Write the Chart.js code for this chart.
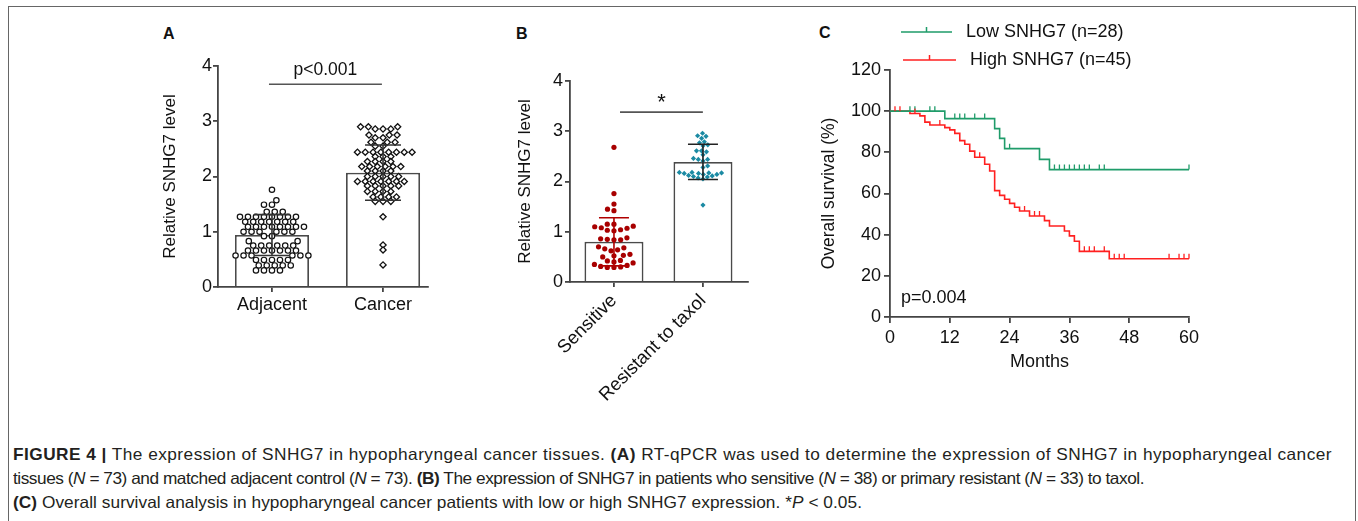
<!DOCTYPE html>
<html><head><meta charset="utf-8">
<script src="https://cdn.jsdelivr.net/npm/chart.js@4.4.0/dist/chart.umd.min.js"></script>
<style>
html,body{margin:0;padding:0;background:#fff;width:1358px;height:521px;overflow:hidden;}
#frame{position:absolute;left:8px;top:6px;width:1348px;height:530px;border:1px solid #666;border-bottom:none;box-sizing:border-box;}
canvas{position:absolute;}
.lbl{position:absolute;font-family:'Liberation Sans',Arial,sans-serif;font-weight:bold;font-size:16px;line-height:16px;color:#111;}
.cap{position:absolute;left:13px;white-space:nowrap;font-family:'Liberation Sans',Arial,sans-serif;font-size:16.5px;line-height:20px;color:#231f20;transform-origin:0 50%;}
</style></head>
<body>
<div id="frame"></div>
<div class="lbl" style="left:163px;top:26px">A</div>
<div class="lbl" style="left:516px;top:26px">B</div>
<div class="lbl" style="left:819px;top:25px">C</div>
<canvas id="cA" width="460" height="330" style="left:0;top:0"></canvas>
<canvas id="cB" width="330" height="430" style="left:460px;top:0"></canvas>
<canvas id="cC" width="568" height="400" style="left:790px;top:0"></canvas>
<div class="cap" data-w="1319" style="top:444px"><b>FIGURE 4 |</b> The expression of SNHG7 in hypopharyngeal cancer tissues. <b>(A)</b> RT-qPCR was used to determine the expression of SNHG7 in hypopharyngeal cancer</div>
<div class="cap" data-w="1131" style="top:468px">tissues (<i>N</i> = 73) and matched adjacent control (<i>N</i> = 73). <b>(B)</b> The expression of SNHG7 in patients who sensitive (<i>N</i> = 38) or primary resistant (<i>N</i> = 33) to taxol.</div>
<div class="cap" data-w="849" style="top:492px"><b>(C)</b> Overall survival analysis in hypopharyngeal cancer patients with low or high SNHG7 expression. *<i>P</i> &lt; 0.05.</div>
<script>
// ---------------- DATA ----------------
// Panel A
const panelAGroups = ['Adjacent', 'Cancer'];
const panelAMeans = [0.94, 2.07];
const panelASD = [0.37, 0.50];
const adjacentValues = [
  1.76, 1.57, 1.49, 1.49, 1.36, 1.36, 1.36,
  1.27, 1.27, 1.27, 1.27, 1.27, 1.27, 1.27, 1.27,
  1.18, 1.18, 1.18, 1.18, 1.18, 1.18, 1.18,
  1.09, 1.09, 1.09, 1.09, 1.09, 1.09, 1.09, 1.09,
  1.00, 1.00, 1.00, 1.00, 1.00, 1.00,
  0.92, 0.92, 0.83, 0.83,
  0.75, 0.75, 0.75, 0.75, 0.75, 0.75,
  0.66, 0.66, 0.66, 0.66, 0.66, 0.66, 0.66,
  0.57, 0.57, 0.57, 0.57, 0.57, 0.57,
  0.49, 0.49, 0.49, 0.49, 0.49,
  0.39, 0.39, 0.39, 0.39, 0.39,
  0.30, 0.30, 0.30, 0.30
];
const cancerValues = [
  2.90, 2.90, 2.90, 2.86, 2.86, 2.86, 2.75, 2.75, 2.75, 2.70, 2.70,
  2.62, 2.62, 2.62, 2.55, 2.55,
  2.44, 2.44, 2.44, 2.44, 2.44, 2.44, 2.44, 2.44,
  2.36, 2.36, 2.36, 2.27, 2.27, 2.27, 2.27,
  2.18, 2.18, 2.18, 2.18, 2.18, 2.18, 2.10, 2.10, 2.10, 2.10,
  2.00, 2.00, 2.00, 2.00, 2.00,
  1.91, 1.91, 1.91, 1.91, 1.91, 1.91, 1.91,
  1.83, 1.83, 1.83, 1.83, 1.83,
  1.73, 1.73, 1.73, 1.73, 1.63, 1.63, 1.63, 1.63,
  1.55, 1.55, 1.55, 1.27, 0.76, 0.67, 0.40
];
const panelASignif = 'p<0.001';

// Panel B
const panelBGroups = ['Sensitive', 'Resistant to taxol'];
const panelBMeans = [0.80, 2.39];
const panelBSD = [0.48, 0.35];
const sensitiveValues = [
  2.68, 1.76, 1.55, 1.45, 1.42,
  1.15, 1.15, 1.11, 1.10, 1.08, 1.07, 1.04, 1.03, 1.02,
  0.88, 0.86, 0.85, 0.84, 0.84,
  0.70, 0.68, 0.66, 0.64, 0.62,
  0.55, 0.53, 0.52, 0.50, 0.43,
  0.42, 0.40, 0.38, 0.35, 0.33, 0.31, 0.30, 0.29, 0.29
];
const resistantValues = [
  2.96, 2.91, 2.90, 2.86, 2.79, 2.77, 2.73, 2.71,
  2.61, 2.61, 2.59, 2.53, 2.46, 2.44, 2.44, 2.41, 2.31, 2.28,
  2.18, 2.18, 2.17, 2.17, 2.16, 2.16, 2.14, 2.14, 2.12, 2.11, 2.10, 2.09, 2.07, 2.05,
  1.53
];
const panelBSignif = '*';

// Panel C (Kaplan-Meier)
const seriesLabels = ['Low SNHG7 (n=28)', 'High SNHG7 (n=45)'];
const lowTimes = [0, 11, 21, 22, 23, 30, 32, 60];
const lowSurvival = [100, 96.4, 91.5, 86.8, 81.8, 76.6, 71.6, 71.6];
const lowCensored = [4, 5, 8, 9, 13, 14, 15, 17, 19, 24, 33, 34, 35, 36, 37, 38, 39, 40, 42, 43, 60];
const highTimes = [0, 4, 6, 7, 8, 11, 12, 13, 14, 15, 16, 17, 19, 20, 21, 22, 23, 24, 25, 26, 28, 31, 32, 35, 36, 37, 38, 44, 60];
const highSurvival = [100, 98.9, 97.7, 94.7, 93.3, 92.0, 90.9, 89.2, 85.7, 83.9, 80.6, 77.6, 74.2, 70.9, 61.4, 59.1, 57.2, 55.2, 53.3, 51.5, 49.1, 46.8, 44.2, 41.8, 39.4, 36.8, 31.9, 28.3, 28.3];
const highCensored = [1, 2, 5, 10, 18, 27, 29, 30, 39, 40, 41, 43, 45, 46, 47, 56, 58, 59, 60];
const monthTicks = [0, 12, 24, 36, 48, 60];
const pValueC = 'p=0.004';

// ---------------- STYLE / HELPERS ----------------
const FONT = "'Liberation Sans', Arial, Helvetica, sans-serif";
Chart.defaults.font.family = FONT;
Chart.defaults.color = '#111';
const AX = '#444';
const GREEN = '#1f9c6a', RED = '#ff2020';

function axisGrid(len) {
  return { display: true, drawOnChartArea: false, drawTicks: true, tickLength: len, color: AX, lineWidth: 1.8, offset: false };
}
const axisBorder = { display: true, color: AX, width: 1.8 };

function errorBarPlugin(means, sds, colors, capPx) {
  return {
    id: 'errorbars',
    afterDatasetsDraw(chart) {
      const { ctx } = chart, xs = chart.scales.x, ys = chart.scales.y;
      ctx.save();
      ctx.lineWidth = 1.6;
      means.forEach((m, i) => {
        const cx = xs.getPixelForValue(i + 1);
        const t = ys.getPixelForValue(m + sds[i]), b = ys.getPixelForValue(m - sds[i]);
        ctx.strokeStyle = colors[i];
        ctx.beginPath();
        ctx.moveTo(cx, t); ctx.lineTo(cx, b);
        ctx.moveTo(cx - capPx / 2, t); ctx.lineTo(cx + capPx / 2, t);
        ctx.moveTo(cx - capPx / 2, b); ctx.lineTo(cx + capPx / 2, b);
        ctx.stroke();
      });
      ctx.restore();
    }
  };
}
function signifPlugin(x1, x2, yv, text, fontSize, isStar) {
  return {
    id: 'signif',
    afterDraw(chart) {
      const { ctx } = chart, xs = chart.scales.x, ys = chart.scales.y;
      const a = xs.getPixelForValue(x1), b = xs.getPixelForValue(x2), y = ys.getPixelForValue(yv);
      ctx.save();
      ctx.strokeStyle = '#555'; ctx.lineWidth = 1.6;
      ctx.beginPath(); ctx.moveTo(a, y); ctx.lineTo(b, y); ctx.stroke();
      ctx.fillStyle = '#111'; ctx.textAlign = 'center';
      ctx.font = fontSize + 'px ' + FONT;
      if (isStar) { ctx.textBaseline = 'alphabetic'; ctx.fillText(text, (a + b) / 2, y - 3); }
      else { ctx.textBaseline = 'middle'; ctx.fillText(text, (a + b) / 2, y - 14); }
      ctx.restore();
    }
  };
}
function swarm(chart, dsIndex, values, center, Dx, Dy) {
  const xs = chart.scales.x, ys = chart.scales.y;
  const cx = xs.getPixelForValue(center);
  const pts = values.map((v, i) => ({ i, v, y: ys.getPixelForValue(v), x: 0 }));
  const order = pts.slice().sort((a, b) => a.v - b.v);
  const placed = [];
  const hits = (x, p) => placed.some(q => { const dx = (x - q.x) / Dx, dy = (p.y - q.y) / Dy; return dx * dx + dy * dy < 0.96; });
  for (const p of order) {
    const cands = [0];
    for (const q of placed) {
      const dy = (p.y - q.y) / Dy;
      if (Math.abs(dy) < 1) { const d = Dx * Math.sqrt(1 - dy * dy); cands.push(q.x + d, q.x - d); }
    }
    const valid = cands.filter(c => !hits(c, p));
    let m = Infinity; valid.forEach(c => { m = Math.min(m, Math.abs(c)); });
    let bal = 0; placed.forEach(q => { if (Math.abs(q.y - p.y) < 2 * Dy) bal += Math.sign(q.x); });
    const near = valid.filter(c => Math.abs(c) - m < 0.4);
    let best = near[0];
    const preferNeg = bal >= 0;
    for (const c of near) { if (preferNeg ? c < best : c > best) best = c; }
    p.x = best;
    placed.push(p);
  }
  chart.data.datasets[dsIndex].data = pts.map(p => ({ x: xs.getValueForPixel(cx + p.x), y: p.v }));
}

// ---------------- PANEL A ----------------
const chartA = new Chart(document.getElementById('cA'), {
  type: 'bar',
  data: {
    datasets: [
      { type: 'bar', data: panelAMeans.map((m, i) => ({ x: i + 1, y: m })), backgroundColor: '#fff', borderColor: '#4a4a4a', borderWidth: 1.8, barPercentage: 0.667, categoryPercentage: 1, order: 3 },
      { type: 'scatter', data: adjacentValues.map(v => ({ x: 1, y: v })), pointStyle: 'circle', pointRadius: 2.7, pointBorderWidth: 1.2, pointBorderColor: '#111', pointBackgroundColor: '#fff', order: 1 },
      { type: 'scatter', data: cancerValues.map(v => ({ x: 2, y: v })), pointStyle: 'rectRot', pointRadius: 3.1, pointBorderWidth: 1.3, pointBorderColor: '#111', pointBackgroundColor: '#fff', order: 1 }
    ]
  },
  options: {
    responsive: false, animation: false, devicePixelRatio: 1,
    layout: { padding: { left: 150, right: 32, top: 66, bottom: 3 } },
    plugins: { legend: { display: false }, tooltip: { enabled: false } },
    scales: {
      x: { type: 'linear', min: 0.514, max: 2.405, offset: false, bounds: 'data',
        afterBuildTicks: s => { s.ticks = panelAGroups.map((g, i) => ({ value: i + 1 })); },
        afterFit: s => { s.height = 40; },
        ticks: { callback: v => panelAGroups[Math.round(v) - 1], font: { size: 18 }, color: '#111', padding: 2, maxRotation: 0, autoSkip: false },
        grid: axisGrid(5), border: axisBorder },
      y: { type: 'linear', min: 0, max: 4,
        afterFit: s => { s.width = 68; },
        ticks: { stepSize: 1, font: { size: 18 }, color: '#111', padding: 1 },
        grid: axisGrid(5), border: axisBorder,
        title: { display: true, text: 'Relative SNHG7 level', font: { size: 17 }, color: '#111', padding: { top: 10, bottom: 0 } } }
    }
  },
  plugins: [errorBarPlugin(panelAMeans, panelASD, ['#333', '#333'], 36), signifPlugin(0.973, 1.99, 3.67, panelASignif, 17.5, false)]
});
swarm(chartA, 1, adjacentValues, 1, 8, 5.3);
swarm(chartA, 2, cancerValues, 2, 7.8, 4.6);
chartA.update('none');

// ---------------- PANEL B ----------------
const chartB = new Chart(document.getElementById('cB'), {
  type: 'bar',
  data: {
    datasets: [
      { type: 'bar', data: panelBMeans.map((m, i) => ({ x: i + 1, y: m })), backgroundColor: '#fff', borderColor: '#4a4a4a', borderWidth: 1.8, barPercentage: 0.663, categoryPercentage: 1, order: 3 },
      { type: 'scatter', data: sensitiveValues.map(v => ({ x: 1, y: v })), pointStyle: 'circle', pointRadius: 2.6, pointBorderWidth: 0, pointBackgroundColor: '#a80000', order: 1 },
      { type: 'scatter', data: resistantValues.map(v => ({ x: 2, y: v })), pointStyle: 'rectRot', pointRadius: 2.6, pointBorderWidth: 0, pointBackgroundColor: '#1b8aa3', order: 1 }
    ]
  },
  options: {
    responsive: false, animation: false, devicePixelRatio: 1,
    layout: { padding: { left: 45, right: 42, top: 81, bottom: 8 } },
    plugins: { legend: { display: false }, tooltip: { enabled: false } },
    scales: {
      x: { type: 'linear', min: 0.506, max: 2.506, offset: false, bounds: 'data',
        afterBuildTicks: s => { s.ticks = panelBGroups.map((g, i) => ({ value: i + 1 })); },
        afterFit: s => { s.height = 140; },
        ticks: { callback: v => panelBGroups[Math.round(v) - 1], font: { size: 18.5 }, color: '#111', padding: 3, minRotation: 45, maxRotation: 45, autoSkip: false },
        grid: axisGrid(5), border: axisBorder },
      y: { type: 'linear', min: 0, max: 4,
        afterFit: s => { s.width = 65; },
        ticks: { stepSize: 1, font: { size: 18 }, color: '#111', padding: 2 },
        grid: axisGrid(5), border: axisBorder,
        title: { display: true, text: 'Relative SNHG7 level', font: { size: 17 }, color: '#111', padding: { top: 10, bottom: 0 } } }
    }
  },
  plugins: [errorBarPlugin(panelBMeans, panelBSD, ['#b00000', '#222'], 30), signifPlugin(1.068, 1.999, 3.38, panelBSignif, 22, true)]
});
swarm(chartB, 1, sensitiveValues, 1, 6.7, 5.6);
swarm(chartB, 2, resistantValues, 2, 5.0, 4.2);
chartB.update('none');

// ---------------- PANEL C ----------------
function survivalAt(times, surv, t) {
  let s = surv[0];
  for (let i = 0; i < times.length; i++) { if (times[i] <= t) s = surv[i]; }
  return s;
}
const kmSeries = [
  { times: lowTimes, surv: lowSurvival, cens: lowCensored, color: GREEN },
  { times: highTimes, surv: highSurvival, cens: highCensored, color: RED }
];
const censorPlugin = {
  id: 'censor',
  afterDatasetsDraw(chart) {
    const { ctx } = chart, xs = chart.scales.x, ys = chart.scales.y;
    ctx.save(); ctx.lineWidth = 1.3;
    kmSeries.forEach(s => {
      ctx.strokeStyle = s.color; ctx.beginPath();
      s.cens.forEach(t => {
        const x = xs.getPixelForValue(t), y = ys.getPixelForValue(survivalAt(s.times, s.surv, t));
        ctx.moveTo(x, y); ctx.lineTo(x, y - 5);
      });
      ctx.stroke();
    });
    ctx.restore();
  }
};
const legendRows = [
  { x1: 111, x2: 162, y: 32, tx: 176 },
  { x1: 113, x2: 166, y: 60, tx: 180 }
];
const kmDecor = {
  id: 'kmdecor',
  afterDraw(chart) {
    const { ctx } = chart;
    ctx.save();
    ctx.font = '18px ' + FONT; ctx.textBaseline = 'middle'; ctx.textAlign = 'left';
    legendRows.forEach((r, i) => {
      ctx.strokeStyle = kmSeries[i].color; ctx.lineWidth = 1.5;
      ctx.beginPath(); ctx.moveTo(r.x1, r.y); ctx.lineTo(r.x2, r.y);
      const mx = (r.x1 + r.x2) / 2; ctx.moveTo(mx, r.y); ctx.lineTo(mx, r.y - 5); ctx.stroke();
      ctx.fillStyle = '#111'; ctx.fillText(seriesLabels[i], r.tx, r.y);
    });
    ctx.fillText(pValueC, 111, 298);
    ctx.restore();
  }
};
const chartC = new Chart(document.getElementById('cC'), {
  type: 'line',
  data: {
    datasets: kmSeries.map((s, k) => ({
      label: seriesLabels[k],
      data: s.times.map((t, i) => ({ x: t, y: s.surv[i] })),
      borderColor: s.color, borderWidth: 1.6, stepped: true, pointRadius: 0, fill: false
    }))
  },
  options: {
    responsive: false, animation: false, devicePixelRatio: 1,
    layout: { padding: { left: 20, right: 169, top: 70, bottom: 18 } },
    plugins: { legend: { display: false }, tooltip: { enabled: false } },
    scales: {
      x: { type: 'linear', min: 0, max: 60, bounds: 'data',
        afterBuildTicks: s => { s.ticks = monthTicks.map(v => ({ value: v })); },
        afterFit: s => { s.height = 65; },
        ticks: { font: { size: 18 }, color: '#111', padding: 4, maxRotation: 0 },
        grid: axisGrid(6), border: axisBorder,
        title: { display: true, text: 'Months', font: { size: 18 }, color: '#111', padding: { top: 4, bottom: 9 } } },
      y: { type: 'linear', min: 0, max: 120,
        afterFit: s => { s.width = 80; },
        ticks: { stepSize: 20, font: { size: 18 }, color: '#111', padding: 3 },
        grid: axisGrid(6), border: axisBorder,
        title: { display: true, text: 'Overall survival (%)', font: { size: 17.5 }, color: '#111', padding: { top: 9, bottom: 0 } } }
    }
  },
  plugins: [censorPlugin, kmDecor]
});

// ---------------- caption fit (shared glyph scale, per-line tracking) ----------------
(function () {
  const caps = Array.from(document.querySelectorAll('.cap'));
  const widths = caps.map(el => el.getBoundingClientRect().width);
  const ratios = caps.map((el, i) => (+el.dataset.w) / widths[i]);
  const s = ratios.reduce((a, b) => a + b, 0) / ratios.length;
  caps.forEach((el, i) => {
    const want = (+el.dataset.w) / s;
    const n = el.textContent.length;
    el.style.letterSpacing = ((want - widths[i]) / n) + 'px';
    el.style.transform = 'scaleX(' + s + ')';
  });
})();
</script>
</body></html>
